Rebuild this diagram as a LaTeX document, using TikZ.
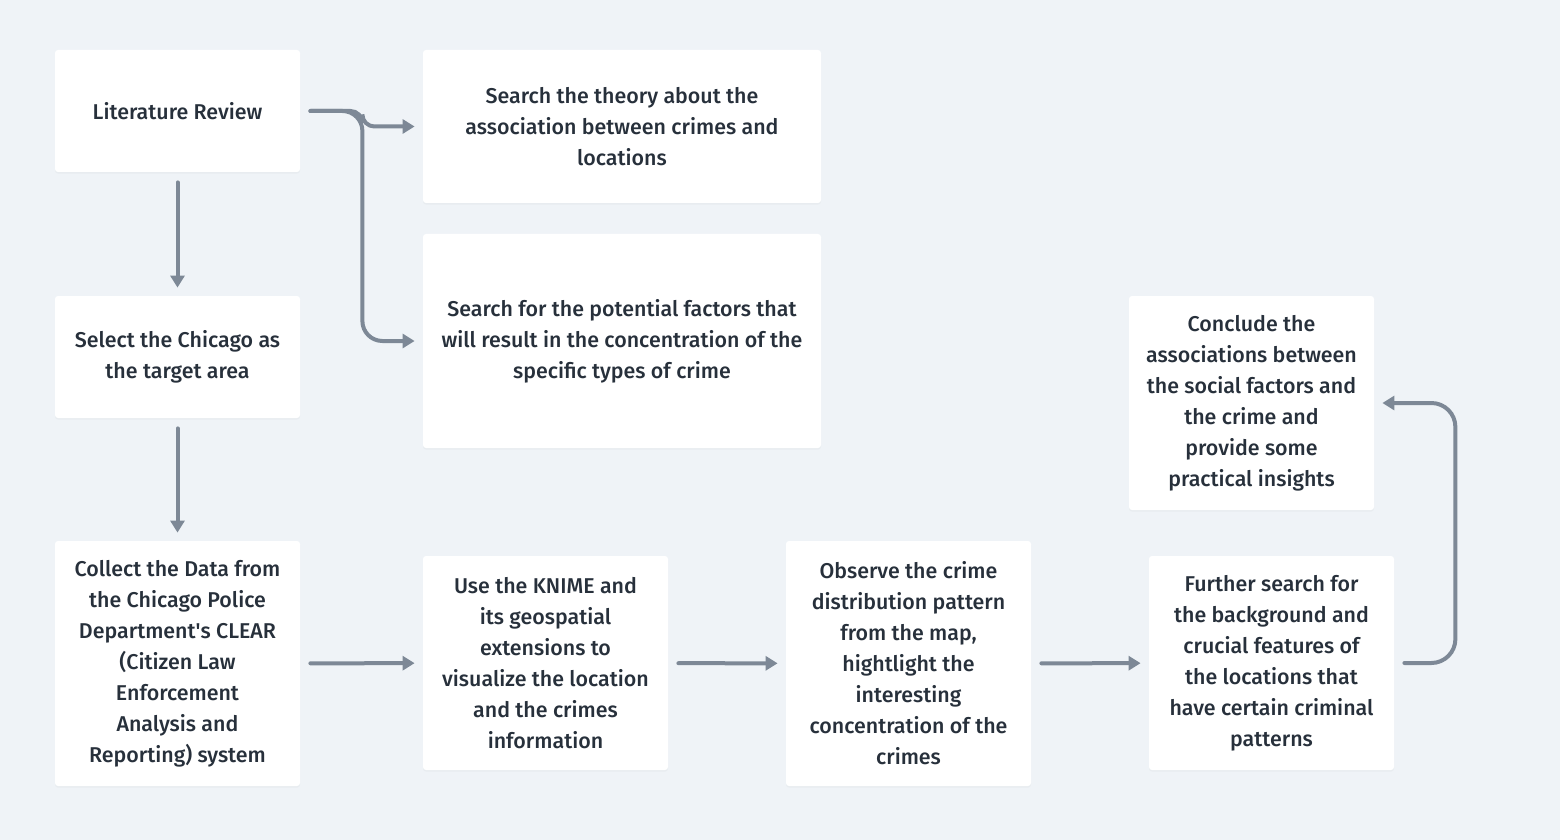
\documentclass[tikz,border=0pt]{standalone}
\usepackage{fontspec}
\setmainfont{Fira Sans}[UprightFont=* Medium]
\usepackage{xcolor}
\usetikzlibrary{arrows.meta, positioning, shadows}

\definecolor{canvas}{HTML}{EFF3F7}
\definecolor{flowline}{HTML}{7D8896}
\definecolor{ink}{HTML}{27303B}

\begin{document}
\begin{tikzpicture}[x=0.5pt, y=-0.5pt,
    box/.style={fill=white, rounded corners=1.5pt, align=center, text=ink,
        font=\fontsize{10.7}{15.5}\selectfont, inner sep=0pt,
        minimum width=122.5pt,
        drop shadow={opacity=0.06, shadow xshift=0pt, shadow yshift=-0.8pt}},
    flow/.style={draw=flowline, line width=2pt, line cap=round,
        -{Triangle[width=7pt, length=6pt]}, shorten <=5pt, shorten >=4pt}]
    % page and background
    \useasboundingbox[fill=canvas] (0,0) rectangle (1560,840);

    % left column
    \node[box, minimum height=61pt] (litreview) at (177.5,111) {Literature Review};
    \node[box, minimum height=61pt] (chicago) at (177.5,357) {Select the Chicago as\\the target area};
    \node[box, minimum height=122.5pt] (collect) at (177.5,663.5) {Collect the Data from\\the Chicago Police\\Department\textquotesingle s CLEAR\\(Citizen Law\\Enforcement\\Analysis and\\Reporting) system};

    % search boxes
    \node[box, minimum width=199pt, minimum height=76.5pt] (theory) at (622,126.5) {Search the theory about the\\association between crimes and\\locations};
    \node[box, minimum width=199pt, minimum height=107pt] (factors) at (622,341) {Search for the potential factors that\\will result in the concentration of the\\specific types of crime};

    % bottom row
    \node[box, minimum height=107pt] (knime) at (545.5,663) {Use the KNIME and\\its geospatial\\extensions to\\visualize the location\\and the crimes\\information};
    \node[box, minimum height=122.5pt] (observe) at (908.5,663.5) {Observe the crime\\distribution pattern\\from the map,\\hightlight the\\interesting\\concentration of the\\crimes};
    \node[box, minimum height=107pt] (further) at (1271.5,663) {Further search for\\the background and\\crucial features of\\the locations that\\have certain criminal\\patterns};
    \node[box, minimum height=107pt] (conclude) at (1251.5,403) {Conclude the\\associations between\\the social factors and\\the crime and\\provide some\\practical insights};

    % connectors
    \draw[flow] (litreview) -- (chicago);
    \draw[flow] (chicago) -- (collect);
    \draw[flow, rounded corners=6pt] (litreview.east) -- ++(62,0) |- (theory.west);
    \draw[flow, rounded corners=10pt] (litreview.east) -- ++(62,0) |- (factors.west);
    \foreach \a/\b in {collect/knime, knime/observe, observe/further} {
        \draw[flow] (\a) -- (\b);
    }
    \draw[flow, rounded corners=12pt] (further.east) -- ++(61,0) |- (conclude.east);
\end{tikzpicture}
\end{document}
